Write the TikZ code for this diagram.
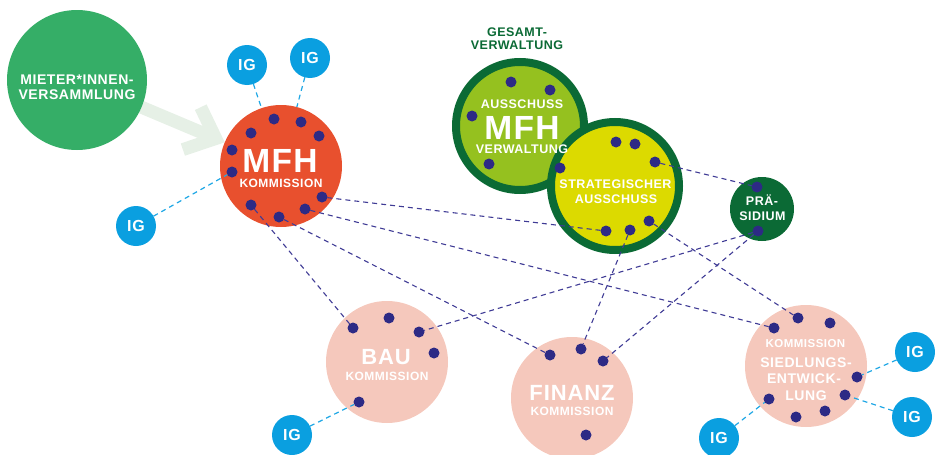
\documentclass[tikz,border=0pt]{standalone}
\usepackage{fontspec}
\setmainfont[LetterSpace=4]{Liberation Sans}
\usetikzlibrary{arrows.meta}
\pgfdeclarelayer{arrowlayer}
\pgfdeclarelayer{circlayer}
\pgfsetlayers{arrowlayer,circlayer,main}
\definecolor{mietergreen}{HTML}{35AE67}
\definecolor{arrowpale}{HTML}{E6F0E6}
\definecolor{mfhred}{HTML}{E8502E}
\definecolor{navydot}{HTML}{2D2A85}
\definecolor{navyline}{HTML}{3F3B95}
\definecolor{igblue}{HTML}{0A9FE0}
\definecolor{iglineblue}{HTML}{1FA7E5}
\definecolor{darkgreen}{HTML}{0B6A35}
\definecolor{lightgreen}{HTML}{95C11F}
\definecolor{yellowg}{HTML}{DCDA00}
\definecolor{pinkc}{HTML}{F5C8BC}
\newcommand\fsz[1]{\fontsize{#1}{#1}\selectfont\bfseries}
\begin{document}
\begin{tikzpicture}[x=1pt,y=-1pt,
  bigc/.style={circle, inner sep=0pt, outer sep=0pt, draw=none},
  ringc/.style={circle, inner sep=0pt, outer sep=0pt, draw=darkgreen, line width=8pt, minimum size=128pt},
  igc/.style={circle, inner sep=0pt, outer sep=0pt, fill=igblue, minimum size=40pt, text=white, font=\fsz{16}},
  dotc/.style={circle, inner sep=0pt, outer sep=0pt, fill=navydot, minimum size=11pt},
  wt/.style={text=white, anchor=base, inner sep=0pt},
  gt/.style={text=darkgreen, anchor=base, inner sep=0pt},
  navydash/.style={draw=navyline, line width=1.1pt, dash pattern=on 5pt off 4pt},
  bluedash/.style={draw=iglineblue, line width=1.2pt, dash pattern=on 5pt off 4pt},
  bigarrow/.style={draw=arrowpale, line width=13pt, -{Straight Barb[length=26pt,width=46pt]}}
]
\useasboundingbox (0,0) rectangle (935,455);
\begin{pgfonlayer}{circlayer}
\node[bigc, fill=mietergreen, minimum size=140pt] (mieter) at (77,80) {};
\node[bigc, fill=mfhred, minimum size=122pt] (mfh) at (281,166) {};
\node[ringc, fill=lightgreen] (amfh) at (520,126) {};
\node[ringc, fill=yellowg] (strat) at (615,186) {};
\node[bigc, fill=darkgreen, minimum size=64pt] (praes) at (762,209) {};
\node[bigc, fill=pinkc, minimum size=122pt] (bau) at (387,362) {};
\node[bigc, fill=pinkc, minimum size=122pt] (fin) at (572,398) {};
\node[bigc, fill=pinkc, minimum size=122pt] (sied) at (806,366) {};
\node[igc] (ig1) at (247,65) {IG};
\node[igc] (ig2) at (310,58) {IG};
\node[igc] (ig3) at (136,226) {IG};
\node[igc] (ig4) at (292,435) {IG};
\node[igc] (ig5) at (915,352) {IG};
\node[igc] (ig6) at (912,417) {IG};
\node[igc] (ig7) at (719,438) {IG};
\end{pgfonlayer}
\begin{pgfonlayer}{arrowlayer}
\draw[bigarrow] (mieter) -- (mfh);
\end{pgfonlayer}
% texts
\node[wt, font=\fsz{14}] (tmi1) at (77,84) {MIETER*INNEN-};
\node[wt, font=\fsz{14}] (tmi2) at (77,99) {VERSAMMLUNG};
\node[wt, font=\fsz{33.5}] (tmfh1) at (280,172) {MFH};
\node[wt, font=\fsz{12}] (tmfh2) at (281,187) {KOMMISSION};
\node[gt, font=\fsz{12.5}] (tgv1) at (517,36) {GESAMT-};
\node[gt, font=\fsz{12.5}] (tgv2) at (517,49) {VERWALTUNG};
\node[wt, font=\fsz{12.5}] (ta1) at (522,108) {AUSSCHUSS};
\node[wt, font=\fsz{33.5}] (ta2) at (522,139) {MFH};
\node[wt, font=\fsz{12.5}] (ta3) at (522,153) {VERWALTUNG};
\node[wt, font=\fsz{12.5}] (ts1) at (615.5,188) {STRATEGISCHER};
\node[wt, font=\fsz{12.5}] (ts2) at (616,203) {AUSSCHUSS};
\node[wt, font=\fsz{12.5}] (tp1) at (762,205) {PRÄ-};
\node[wt, font=\fsz{12.5}] (tp2) at (762.5,220) {SIDIUM};
\node[wt, font=\fsz{22}] (tb1) at (386,364) {BAU};
\node[wt, font=\fsz{12}] (tb2) at (387,380) {KOMMISSION};
\node[wt, font=\fsz{22}] (tf1) at (572,400) {FINANZ};
\node[wt, font=\fsz{12}] (tf2) at (572,415) {KOMMISSION};
\node[wt, font=\fsz{11.5}] (te1) at (805.5,347) {KOMMISSION};
\node[wt, font=\fsz{14}] (te2) at (806,367) {SIEDLUNGS-};
\node[wt, font=\fsz{14}] (te3) at (804,383) {ENTWICK-};
\node[wt, font=\fsz{14}] (te4) at (806,400) {LUNG};
% dots
\foreach \n/\x/\y in {m1/274/119, m2/301/122, m3/319/136, m4/251/133, m5/232/150, m6/232/172, m7/322/197, m8/305/209, m9/279/217, m10/251/205,
  a1/511/82, a2/550/90, a3/472/116, a4/489/164, a5/560/168,
  s1/616/142, s2/635/144, s3/655/162, s4/606/231, s5/630/230, s6/649/221,
  p1/757/187, p2/758/231,
  b1/353/328, b2/389/318, b3/419/332, b4/434/353, b5/359/402,
  f1/550/355, f2/581/349, f3/603/361, f4/586/435,
  e1/774/328, e2/798/318, e3/830/323, e4/857/377, e5/845/395, e6/769/399, e7/796/417, e8/825/411}
  \node[dotc] (\n) at (\x,\y) {};
% connectors
\foreach \a/\b in {m7/s4, m8/e1, m9/f1, m10/b1, s3/p1, p2/b3, p2/f3, s5/f2, s6/e2}
  \draw[navydash] (\a) -- (\b);
\foreach \a/\b in {ig1/mfh, ig2/mfh, ig3/m6, ig4/b5, ig5/e4, ig6/e5, ig7/e6}
  \draw[bluedash] (\a) -- (\b);
\end{tikzpicture}
\end{document}
